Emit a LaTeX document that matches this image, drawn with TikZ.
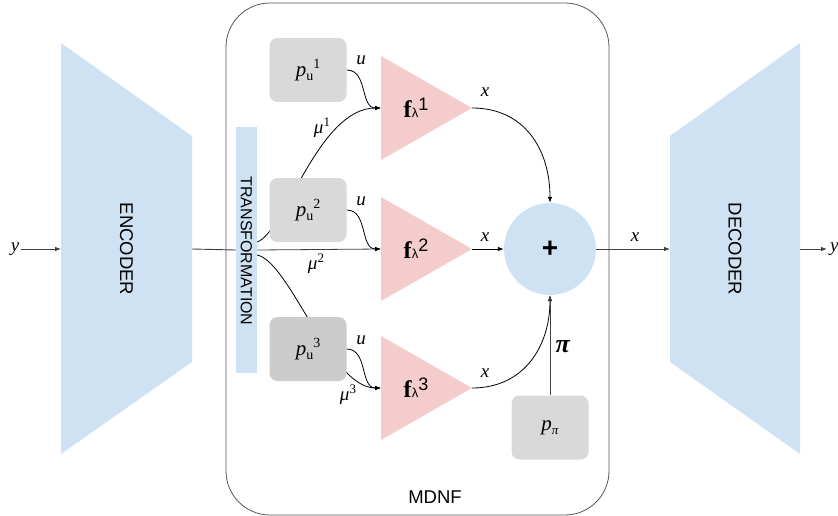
\documentclass[tikz,border=0pt]{standalone}
\usepackage{fontspec}
\setmainfont{Liberation Serif}
\setsansfont{Liberation Sans}
\usetikzlibrary{arrows.meta}
\definecolor{blueF}{HTML}{CFE2F3}
\definecolor{pinkF}{HTML}{F4CCCC}
\definecolor{grayA}{HTML}{D9D9D9}
\definecolor{grayB}{HTML}{CCCCCC}
\definecolor{lineG}{HTML}{404040}
\definecolor{frameG}{HTML}{555555}
\pgfdeclarelayer{bottom}
\pgfdeclarelayer{background}
\pgfsetlayers{bottom,background,main}
\newcommand{\lbl}[1]{\fontsize{19}{21}\selectfont\textit{#1}}
\newcommand{\pu}[1]{\fontsize{21}{23}\selectfont\textit{p}\raisebox{-4pt}{\fontsize{14}{15}\selectfont u}\raisebox{8pt}{\fontsize{14}{15}\selectfont #1}}
\newcommand{\flam}[1]{\fontsize{24}{26}\selectfont\textbf{f}{\sffamily\fontsize{13}{14}\selectfont λ}\raisebox{7pt}{\sffamily\fontsize{18}{19}\selectfont #1}}
\newcommand{\mul}[1]{\fontsize{19}{21}\selectfont\textit{μ}\raisebox{7pt}{\fontsize{13}{14}\selectfont #1}}
\begin{document}
\begin{tikzpicture}[x=1pt,y=-1pt,
  arr/.style={-{Latex[length=6pt,width=4.5pt]}, line width=0.8pt},
  sline/.style={line width=0.9pt, draw=lineG},
  box/.style={rectangle, rounded corners=8pt, minimum width=77pt, minimum height=64pt, inner sep=0pt},
  bigtxt/.style={font=\sffamily\fontsize{18.5}{20}\selectfont},
  lab/.style={inner sep=0pt}]
\useasboundingbox (0,0) rectangle (838,516);

% frame and blocks
\begin{pgfonlayer}{bottom}
\draw[frameG, line width=0.8pt, rounded corners=44pt] (226,3) rectangle (609,515);
\fill[blueF] (61,43) -- (192,136) -- (192,362) -- (61,454) -- cycle;
\fill[blueF] (800,43) -- (670,136) -- (670,362) -- (800,454) -- cycle;
\fill[pinkF] (381,56) -- (472,108) -- (381,160) -- cycle;
\fill[pinkF] (381,197) -- (472,249) -- (381,301) -- cycle;
\fill[pinkF] (381,336) -- (472,388) -- (381,440) -- cycle;
\end{pgfonlayer}

\node[bigtxt, rotate=-90] (enc) at (126.5,249) {ENCODER};
\node[bigtxt, rotate=-90] (dec) at (735,249) {DECODER};
\coordinate (encL) at (61,249);
\coordinate (encR) at (192,249);
\coordinate (decL) at (670,249);
\coordinate (decR) at (800,249);

\node[fill=blueF, minimum width=21pt, minimum height=245pt, inner sep=0pt] (tr) at (246.5,250) {};
\node[font=\sffamily\fontsize{16}{18}\selectfont, rotate=-90] (trt) at (246.5,251) {TRANSFORMATION};

\node[font=\sffamily\fontsize{18.5}{20}\selectfont] (mdnf) at (435,497) {MDNF};

\node[lab] (yin) at (15,249) {\lbl{y}};
\node[lab, anchor=west] (yout) at (830,249) {\lbl{y}};

\node[box, fill=grayA] (pu1) at (308,70) {\pu{1}};
\node[box, fill=grayA] (pu2) at (308,210) {\pu{2}};
\node[box, fill=grayB] (pu3) at (308,349) {\pu{3}};
\node[box, fill=grayA] (ppi) at (550,427.5) {\fontsize{21}{23}\selectfont\textit{p}\raisebox{-4pt}{\fontsize{13}{14}\selectfont\textit{π}}};

\coordinate (f1in) at (381,108);
\coordinate (f1out) at (472,108);
\coordinate (f2in) at (381,249);
\coordinate (f2out) at (472,249);
\coordinate (f3in) at (381,388);
\coordinate (f3out) at (472,388);
\node[lab] (f1) at (416,108) {\flam{1}};
\node[lab] (f2) at (416,249) {\flam{2}};
\node[lab] (f3) at (416,388) {\flam{3}};

\node[circle, fill=blueF, minimum size=92pt, inner sep=0pt, font=\sffamily\bfseries\fontsize{28}{30}\selectfont] (plus) at (550,249) {+};

% labels
\node[lab] (u1) at (361,60) {\lbl{u}};
\node[lab] (u2) at (361,201) {\lbl{u}};
\node[lab] (u3) at (361,340) {\lbl{u}};
\node[lab] (m1) at (322,128) {\mul{1}};
\node[lab] (m2) at (316,264) {\mul{2}};
\node[lab] (m3) at (348,395) {\mul{3}};
\node[lab] (x1) at (485,92) {\lbl{x}};
\node[lab] (x2) at (485,237) {\lbl{x}};
\node[lab] (x3) at (485,373) {\lbl{x}};
\node[lab] (x4) at (635,237) {\lbl{x}};
\node[lab] (pil) at (563,347) {\fontsize{26}{28}\selectfont\textbf{\textit{π}}};

% connectors
\begin{pgfonlayer}{background}
\draw[arr, lineG] ([xshift=2pt]yin.east) -- (encL);
\draw[sline] (encR) -- (tr.west);
\draw[arr, lineG] (tr.east) -- (f2in);
\draw[arr] ([yshift=8pt]tr.east) .. controls (285,232) and (318,108) .. (f1in);
\draw[arr] ([yshift=-5pt]tr.east) .. controls (290,262) and (330,388) .. (f3in);
\draw[arr] (pu1.east) .. controls (368,70) and (360,108) .. (f1in);
\draw[arr] (pu2.east) .. controls (368,210) and (360,249) .. (f2in);
\draw[arr] (pu3.east) .. controls (368,349) and (360,388) .. (f3in);
\draw[arr] (f1out) .. controls (525,108) and (550,150) .. (plus.north);
\draw[arr] (f2out) -- (plus.west);
\draw[arr] (f3out) .. controls (525,388) and (550,345) .. (plus.south);
\draw[arr, lineG] (ppi.north) -- (plus.south);
\draw[arr, lineG] (plus.east) -- (decL);
\draw[arr, lineG] (decR) -- ([xshift=-3pt]yout.west);
\end{pgfonlayer}
\end{tikzpicture}
\end{document}
